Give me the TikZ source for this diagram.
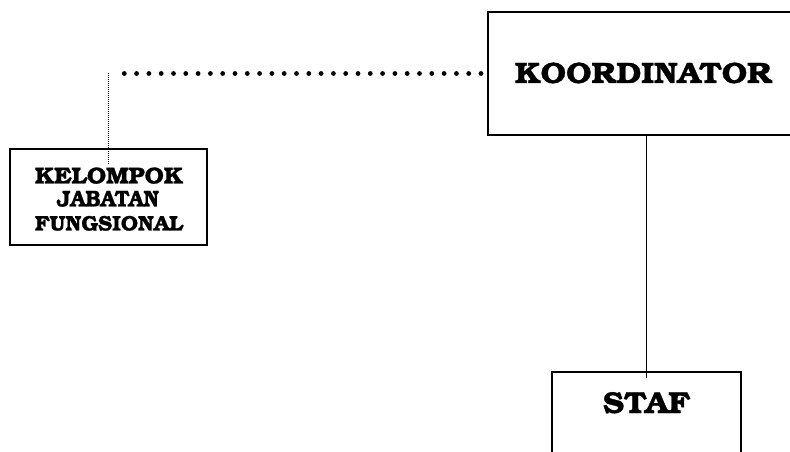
\documentclass[tikz,border=0pt]{standalone}
\usepackage[T1]{fontenc}
\usepackage{bookman}
\usepackage{graphicx}
% heavier caps: fill and stroke the glyph outlines
\newcommand{\heavy}[1]{\special{pdf:code q 2 Tr 0.22 w}#1\special{pdf:code Q}}
% caps set to a fixed width and cap height
\newcommand{\capsbox}[3]{\resizebox{#1bp}{#2bp}{\bfseries\heavy{#3}}}
\begin{document}
\begin{tikzpicture}[x=1bp,y=-1bp,
  box/.style={draw=black,line width=2bp,rectangle,inner sep=0pt},
  lbl/.style={inner sep=0pt,anchor=base,font=\fontsize{24}{26}\selectfont},
  bigdots/.style={line width=4.8bp,line cap=round,dash pattern=on 0bp off 12.3bp},
  thindots/.style={line width=1bp,dash pattern=on 1bp off 1bp}]
\clip (0,0) rectangle (790,452);
\useasboundingbox (0,0) rectangle (790,452);

% boxes
\node[box,minimum width=310bp,minimum height=123bp] (koor) at (643,73.5) {};
\node[lbl] (koorText) at (643.5,83) {\capsbox{257}{21}{KOORDINATOR}};

\node[box,minimum width=197bp,minimum height=96bp] (kel) at (108.5,197) {};
\node[lbl] (kelA) at (109,183.5) {\capsbox{148}{16.5}{KELOMPOK}};
\node[lbl] (kelB) at (108,206.5) {\capsbox{102}{15.5}{JABATAN}};
\node[lbl] (kelC) at (109,230.5) {\capsbox{148}{15}{FUNGSIONAL}};

\node[box,minimum width=189bp,minimum height=140bp] (staf) at (646.5,442) {};
\node[lbl] (stafText) at (646.5,413) {\capsbox{87}{21.5}{STAF}};

% connectors
\coordinate (hEnd) at (118,73.5);
\coordinate (vTop) at (108,73.5);
\coordinate (vBot) at (108,165);
\draw[bigdots] ([xshift=-6bp]koor.west) -- (hEnd);
\draw[thindots] (vTop) -- (vBot);

\coordinate (stafTop) at ([yshift=-7bp]staf.north);
\draw[line width=1.8bp] (koor.south -| stafTop) -- (stafTop);
\end{tikzpicture}
\end{document}
